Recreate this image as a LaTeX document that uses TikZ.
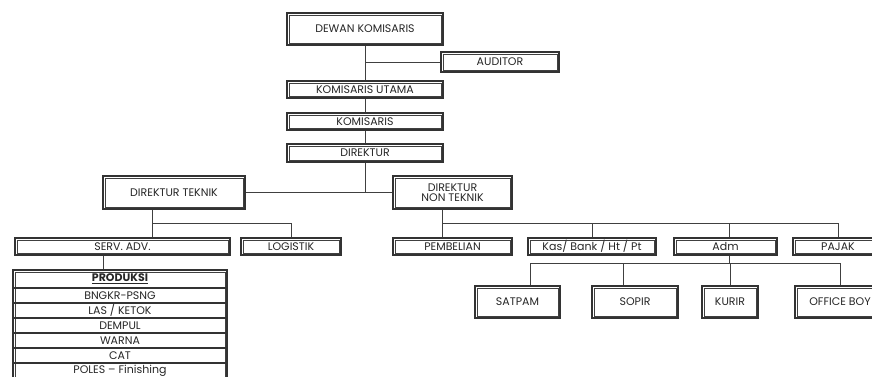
\documentclass[tikz,border=0pt]{standalone}
\usepackage{fontspec}
\setmainfont{Poppins}
\begin{document}
\begin{tikzpicture}[x=1pt,y=-1pt,
  box/.style={draw=black!80, line width=1.3pt,
    inner sep=0pt, text=black!85, font=\fontsize{11}{12}\selectfont, align=center},
  innerbox/.style={draw=black!75, line width=0.6pt},
  conn/.style={draw=black!75, line width=1pt},
  rowline/.style={draw=black!80, line width=1.1pt},
  rowtxt/.style={text=black!85, font=\fontsize{11}{12}\selectfont, inner sep=0pt}]
\useasboundingbox (0,0) rectangle (872,376);
\clip (0,0) rectangle (872,376);
% boxes
\node[box, minimum width=156, minimum height=32] (dewan) at (365,29) {DEWAN KOMISARIS};
\node[box, minimum width=118, minimum height=20] (aud) at (500,62) {AUDITOR};
\node[box, minimum width=156, minimum height=17] (kut) at (365,89.5) {KOMISARIS UTAMA};
\node[box, minimum width=156, minimum height=17] (kom) at (365,121.5) {KOMISARIS};
\node[box, minimum width=156, minimum height=18] (dir) at (365,153) {DIREKTUR};
\node[box, minimum width=142, minimum height=33] (dtek) at (174,192.5) {DIREKTUR TEKNIK};
\node[box, minimum width=119, minimum height=33] (dnon) at (452.5,192.5) {DIREKTUR\\[-2pt]NON TEKNIK};
\node[box, minimum width=215, minimum height=17] (serv) at (122.5,246.5) {SERV. ADV.};
\node[box, minimum width=100, minimum height=17] (log) at (291,246.5) {LOGISTIK};
\node[box, minimum width=119, minimum height=17] (pemb) at (452.5,246.5) {PEMBELIAN};
\node[box, minimum width=128, minimum height=17] (kas) at (592,246.5) {Kas/ Bank / Ht / Pt};
\node[box, minimum width=103, minimum height=17] (adm) at (725.5,246.5) {Adm};
\node[box, minimum width=90, minimum height=17] (pajak) at (838,246.5) {PAJAK};
\node[box, minimum width=85, minimum height=32] (satpam) at (517.5,302) {SATPAM};
\node[box, minimum width=86, minimum height=32] (sopir) at (635,302) {SOPIR};
\node[box, minimum width=56, minimum height=32] (kurir) at (730,302) {KURIR};
\node[box, minimum width=90, minimum height=32] (office) at (840,302) {OFFICE BOY};
% produksi table
\node[box, minimum width=214, minimum height=110] (prod) at (120,325) {};
\foreach \n in {dewan,aud,kut,kom,dir,dtek,dnon,serv,log,pemb,kas,adm,pajak,satpam,sopir,kurir,office,prod}
  \draw[innerbox] ([shift={(2.8,2.8)}]\n.north west) rectangle ([shift={(-2.8,-2.8)}]\n.south east);
\node[rowtxt] (p0) at (120,279) {\textbf{\underline{PRODUKSI}}};
\node[rowtxt] (p1) at (120,295.5) {BNGKR-PSNG};
\node[rowtxt] (p2) at (120,310.5) {LAS / KETOK};
\node[rowtxt] (p3) at (120,325.5) {DEMPUL};
\node[rowtxt] (p4) at (120,340.5) {WARNA};
\node[rowtxt] (p5) at (120,355.5) {CAT};
\node[rowtxt] (p6) at (120,370.5) {POLES -- Finishing};
\foreach \y in {288,303,318,333,348,363}
  \draw[rowline] (prod.west |- 0,\y) -- (prod.east |- 0,\y);
% connectors
\draw[conn] (dewan) -- (kut);
\draw[conn] (kut) -- (kom);
\draw[conn] (kom) -- (dir);
\coordinate (ja) at (366,62);
\draw[conn] (ja) -- (aud.west);
\draw[conn] (dtek.east) -- (dnon.west);
\draw[conn] (dir.south) -- (dir.south |- dtek.east);
\coordinate (j1) at (152,223);
\draw[conn] (dtek.south -| j1) -- (j1) -| (log.north);
\draw[conn] (j1) -- (serv.north -| j1);
\coordinate (jp) at (103,262);
\draw[conn] (serv.south -| jp) -- (prod.north -| jp);
\coordinate (j2) at (442,223);
\coordinate (j2e) at (838,223);
\draw[conn] (dnon.south -| j2) -- (pemb.north -| j2);
\draw[conn] (j2) -- (j2e);
\draw[conn] (kas.north |- j2) -- (kas.north);
\coordinate (j3) at (729,223);
\draw[conn] (j3) -- (adm.north -| j3);
\draw[conn] (j2e) -- (pajak.north);
\coordinate (j4) at (729,263);
\coordinate (j4w) at (530,263);
\coordinate (j4e) at (840,263);
\coordinate (js) at (623,263);
\draw[conn] (adm.south -| j4) -- (j4);
\draw[conn] (j4w) -- (j4e);
\draw[conn] (j4w) -- (satpam.north -| j4w);
\draw[conn] (js) -- (sopir.north -| js);
\draw[conn] (kurir.north |- j4) -- (kurir.north);
\draw[conn] (j4e) -- (office.north);
\end{tikzpicture}
\end{document}
